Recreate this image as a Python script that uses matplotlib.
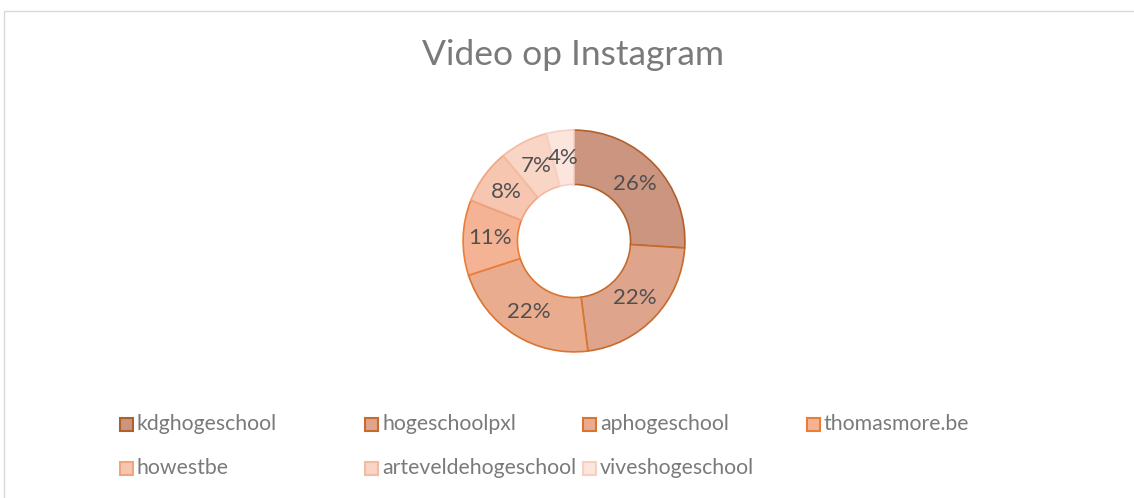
import matplotlib
matplotlib.use("Agg")
import matplotlib.pyplot as plt
from matplotlib.patches import Rectangle

categories = ["kdghogeschool", "hogeschoolpxl", "aphogeschool", "thomasmore.be",
              "howestbe", "arteveldehogeschool", "viveshogeschool"]
values = [26, 22, 22, 11, 8, 7, 4]
title = "Video op Instagram"

fills = ["#CB9580", "#DFA48C", "#EAAC8E", "#F5B396", "#F6C6B0", "#F9D5C6", "#FBE5DC"]
edges = ["#B0602A", "#C66B2E", "#DA7530", "#EC7D35", "#F0A47F", "#F3BBA2", "#F6D0C2"]

W, H = 1134, 498
fig = plt.figure(figsize=(W / 100, H / 100), dpi=100)
fig.patch.set_facecolor("white")
plt.rcParams['font.family'] = ['Lato', 'DejaVu Sans']

# chart border
fig.add_artist(Rectangle((4 / W, -0.01), 1.02, (H - 11) / H + 0.01, transform=fig.transFigure,
                         fill=False, edgecolor="#D9D9D9", linewidth=1.0))

cx, cy, r = 574, 241, 112
ax = fig.add_axes([(cx - r) / W, (H - cy - r) / H, 2 * r / W, 2 * r / H])
wedges, texts = ax.pie(values, startangle=90, counterclock=False, colors=fills,
                       radius=1.0, labels=[f"{v}%" for v in values], labeldistance=0.755,
                       wedgeprops=dict(width=0.49, linewidth=1.2),
                       textprops=dict(color="#505050", fontsize=16, ha="center", va="center"))
for w, ec in zip(wedges, edges):
    w.set_edgecolor(ec)
ax.set_xlim(-1.01, 1.01)
ax.set_ylim(-1.01, 1.01)
ax.set_aspect("equal")
ax.axis("off")

fig.text(573 / W, 1 - 55 / H, title, ha="center", va="center", fontsize=25.5, color="#7A7A7A")

# legend
xs = [120, 365, 583, 807, 120, 365, 583]
ys = [424, 424, 424, 424, 468, 468, 468]
s = 13
for name, fc, ec, x, y in zip(categories, fills, edges, xs, ys):
    fig.add_artist(Rectangle((x / W, (H - y - s / 2) / H), s / W, s / H, transform=fig.transFigure,
                             facecolor=fc, edgecolor=ec, linewidth=1.5))
    fig.text((x + s + 4) / W, 1 - y / H, name, ha="left", va="center", fontsize=15.3, color="#7A7A7A")

fig.savefig("out.png", dpi=100, facecolor="white")
